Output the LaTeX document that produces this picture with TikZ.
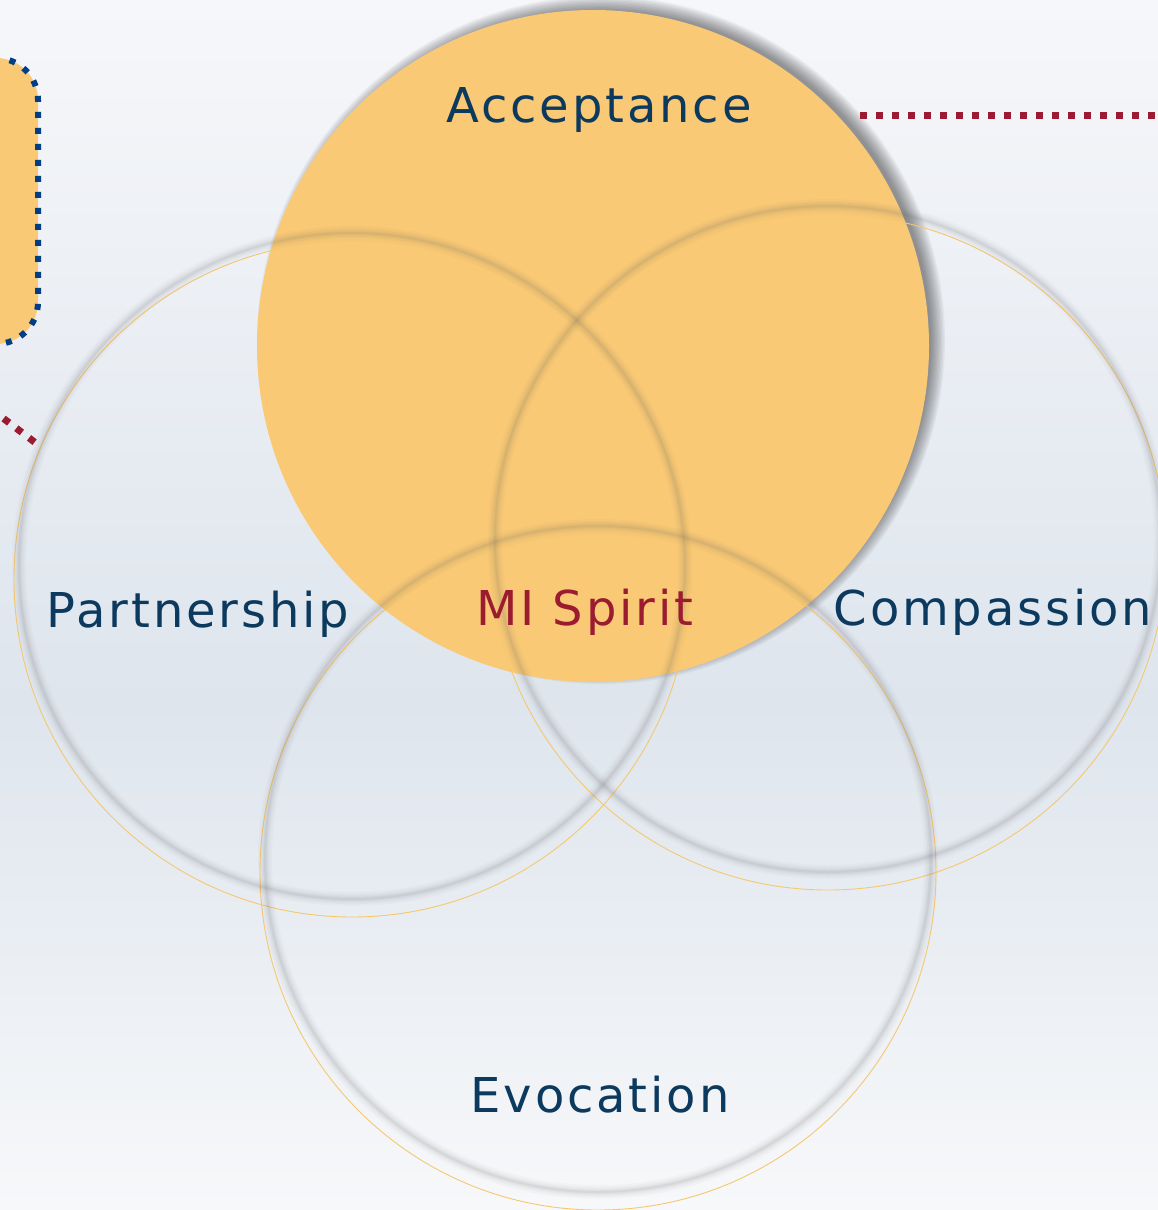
\documentclass[tikz,border=0pt]{standalone}
\usepackage{fontspec}
\usepackage{tikz}
\newfontfamily\labelfont{DejaVu Sans}[LetterSpace=6]

\definecolor{mango}{RGB}{249,201,117}
\definecolor{mangoline}{RGB}{246,200,110}
\definecolor{navytext}{RGB}{12,57,94}
\definecolor{wine}{RGB}{155,27,48}
\definecolor{dotblue}{RGB}{0,63,135}
\definecolor{bgtop}{RGB}{246,247,250}
\definecolor{bgmid}{RGB}{222,229,237}
\definecolor{bgbot}{RGB}{247,248,250}

\begin{document}
\begin{tikzpicture}[x=1pt,y=-1pt]
\tikzset{font=\labelfont\fontsize{48}{58}\selectfont}
\tikzset{every node/.style={inner sep=0pt, outer sep=0pt}}
\tikzset{label/.style={anchor=base, text=navytext}}
\tikzset{core/.style={anchor=base, text=wine}}
\tikzset{ring/.style={circle, draw=mangoline, line width=0.9pt, minimum size=676pt}}
\tikzset{reddots/.style={draw=wine, line width=7pt, dash pattern=on 7pt off 9pt}}
\tikzset{bluedots/.style={draw=dotblue, line width=6pt, dash pattern=on 6pt off 10pt}}

\useasboundingbox (0,0) rectangle (1158,1210);
\clip (0,0) rectangle (1158,1210);
% background, darkest a little below the middle
\fill[top color=bgtop, bottom color=bgmid] (0,0) rectangle (1158,700);
\fill[top color=bgmid, bottom color=bgbot] (0,700) rectangle (1158,1210);

% box on the left edge
\node[bluedots, fill=mango, rounded corners=42pt, minimum width=400pt, minimum height=286pt]
  (sidebox) at (-162,201) {};

% shadow of the big circle, up and to the right
\coordinate (shadowc) at (601,340);
\foreach \r in {344,342.6,...,329}
  \fill[black, opacity=0.045] (shadowc) circle (\r pt);

% the four circles
\node[circle, fill=mango, minimum size=672pt] (acc) at (593,346) {};
\node[ring] (part) at (352,579) {};
\node[ring] (comp) at (828,552) {};
\node[ring] (evoc) at (598,872) {};
\foreach \n in {part,comp,evoc}
  \foreach \w/\o in {14/0.03, 10/0.035, 7/0.045, 4/0.055, 2/0.06}
    \draw[black!60, line width=\w pt, opacity=\o] ([yshift=13pt]\n.center) circle (333pt);

% dotted leaders
\coordinate (accstart) at (860,115);
\coordinate (accend) at (1200,115);
\coordinate (partend) at (-60,370);
\draw[reddots] (accstart) -- (accend);
\draw[reddots] (partend) -- (part.157);

% labels
\node[label] (acctext) at (599,122) {Acceptance};
\node[label] (parttext) at (198,627) {Partnership};
\node[label] (comptext) at (993,625) {Compassion};
\node[label] (evoctext) at (600,1112) {Evocation};
\node[core] (spirit) at (585,625) {MI Spirit};
\end{tikzpicture}
\end{document}
